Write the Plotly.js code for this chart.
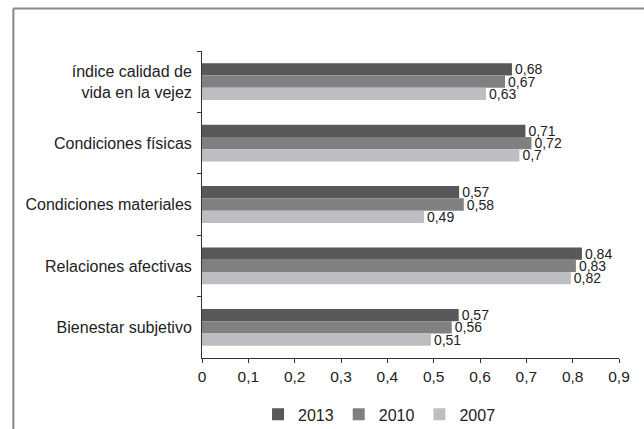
<!DOCTYPE html>
<html>
<head>
<meta charset="utf-8">
<script src="https://cdn.plot.ly/plotly-3.0.1.min.js"></script>
<style>
html,body{margin:0;padding:0;background:#fff;}
#chart{width:644px;height:429px;}
</style>
</head>
<body>
<div id="chart"></div>
<script>
// Categories, top to bottom
const categories = [
  "índice calidad de<br>vida en la vejez",
  "Condiciones físicas",
  "Condiciones materiales",
  "Relaciones afectivas",
  "Bienestar subjetivo"
];
const years = ["2013", "2010", "2007"];
// Bar lengths as drawn in the reference
const values2013 = [0.669, 0.698, 0.555, 0.820, 0.554];
const values2010 = [0.654, 0.711, 0.565, 0.807, 0.539];
const values2007 = [0.613, 0.685, 0.479, 0.796, 0.494];
// Data labels as printed
const labels2013 = ["0,68", "0,71", "0,57", "0,84", "0,57"];
const labels2010 = ["0,67", "0,72", "0,58", "0,83", "0,56"];
const labels2007 = ["0,63", "0,7", "0,49", "0,82", "0,51"];
const xTicks = [0, 0.1, 0.2, 0.3, 0.4, 0.5, 0.6, 0.7, 0.8, 0.9];

const FONT = "'Liberation Sans', Arial, sans-serif";
const colors = ["#58585a", "#808083", "#bdbec1"];
const series = [values2013, values2010, values2007];
const labels = [labels2013, labels2010, labels2007];

const traces = years.map((yr, i) => ({
  type: "bar",
  orientation: "h",
  name: yr,
  y: categories,
  x: series[i],
  text: labels[i],
  textposition: "outside",
  textfont: {family: FONT, size: 14, color: "#222"},
  constraintext: "none",
  cliponaxis: false,
  marker: {color: colors[i], line: {width: 0}},
  hoverinfo: "skip"
}));

// pixel geometry helpers for the frame (paper coords)
const L = 202, R = 618.7, T = 51, B = 358.5;
const px = v => (v - L) / (R - L);
const py = v => (B - v) / (B - T);

const layout = {
  width: 644,
  height: 429,
  margin: {l: L, r: 644 - R, t: T, b: 429 - B, pad: 0, autoexpand: false},
  paper_bgcolor: "#fff",
  plot_bgcolor: "#fff",
  separators: ",.",
  font: {family: FONT, size: 15, color: "#222"},
  barmode: "group",
  bargap: 0.4,
  bargroupgap: 0,
  showlegend: true,
  legend: {
    orientation: "h",
    x: px(258), xanchor: "left",
    y: py(415), yanchor: "middle",
    font: {family: FONT, size: 16, color: "#222"},
    traceorder: "normal",
    itemclick: false, itemdoubleclick: false
  },
  xaxis: {
    range: [0, 0.9],
    tickvals: xTicks,
    showgrid: false,
    zeroline: false,
    showline: true,
    linecolor: "#333",
    linewidth: 1,
    ticks: "outside",
    ticklen: 4,
    tickcolor: "#333",
    tickfont: {family: FONT, size: 15.5, color: "#222"},
    fixedrange: true
  },
  yaxis: {
    type: "category",
    autorange: "reversed",
    showgrid: false,
    zeroline: false,
    showline: true,
    linecolor: "#333",
    linewidth: 1,
    ticks: "outside",
    tickson: "boundaries",
    ticklen: 4,
    tickcolor: "#333",
    ticklabelstandoff: 6,
    tickfont: {family: FONT, size: 16, color: "#222"},
    fixedrange: true
  },
  shapes: [
    {type: "line", xref: "paper", yref: "paper", x0: px(13.5), x1: px(700), y0: py(8.5), y1: py(8.5), line: {color: "#888", width: 2}},
    {type: "line", xref: "paper", yref: "paper", x0: px(13.5), x1: px(13.5), y0: py(8.5), y1: py(500), line: {color: "#888", width: 2}}
  ]
};

Plotly.newPlot("chart", traces, layout, {displayModeBar: false, staticPlot: true});
</script>
</body>
</html>
